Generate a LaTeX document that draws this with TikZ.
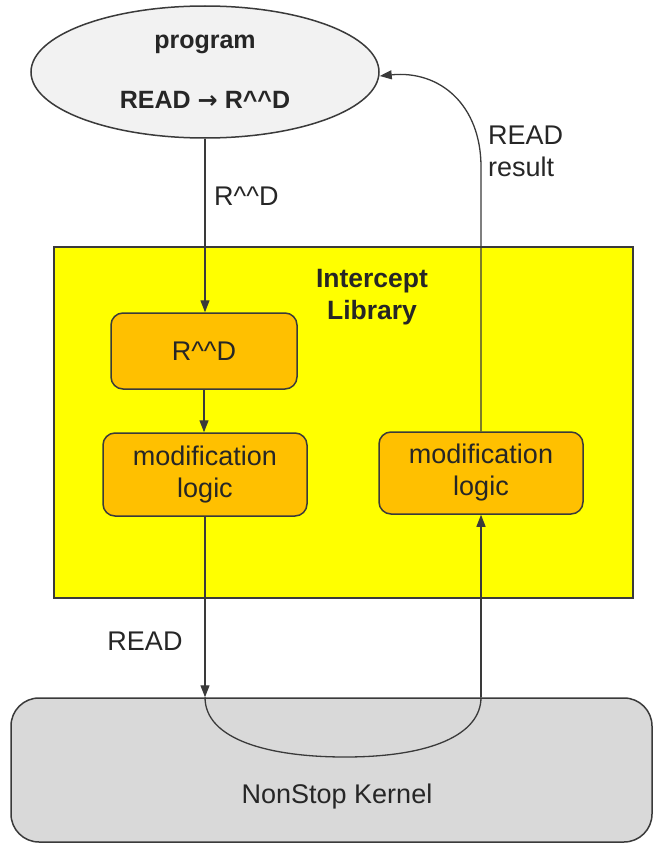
\documentclass[tikz,border=0pt]{standalone}
\usepackage{fontspec}
\setmainfont{Liberation Sans}
\newfontfamily\arrowfont{DejaVu Sans}
\usetikzlibrary{arrows.meta,shapes.geometric}
\definecolor{linec}{HTML}{3A3A3A}
\definecolor{orangefill}{HTML}{FFC000}
\definecolor{ellfill}{HTML}{F2F2F2}
\definecolor{kernfill}{HTML}{D9D9D9}
\definecolor{yel}{HTML}{FFFF00}
\begin{document}
\begin{tikzpicture}[x=1pt,y=-1pt,
  txt/.style={font=\fontsize{27}{32}\selectfont, text=black!85},
  btxt/.style={font=\fontsize{25}{32}\selectfont\bfseries, text=black!85},
  line/.style={draw=linec, line width=1.3pt},
  box/.style={draw=linec, line width=1.5pt, fill=orangefill, rounded corners=12pt, align=center, txt, inner sep=0pt},
  arr/.style={line, -{Triangle[length=12pt,width=9pt]}},
  lbl/.style={txt, align=left, inner sep=0pt}]
\useasboundingbox (0,0) rectangle (654,843);
% program ellipse
\node[ellipse, draw=linec, fill=ellfill, line width=1.5pt, minimum width=348pt, minimum height=132pt, inner sep=0pt] (prog) at (205,72) {};
\node[btxt] (progt) at (205,44) {program};
\node[btxt] (progr) at (205,100) {READ {\arrowfont\bfseries\fontsize{24}{32}\selectfont →} R\textasciicircum\textasciicircum D};
% intercept library
\node[draw=linec, line width=1.5pt, fill=yel, minimum width=579pt, minimum height=351pt, inner sep=0pt, anchor=north west] (lib) at (53,246) {};
\node[btxt, font=\fontsize{26.5}{32}\selectfont\bfseries, align=center] (libt) at (372,297) {Intercept\\Library};
\node[box, minimum width=186pt, minimum height=76pt] (rd) at (204,351) {R\textasciicircum\textasciicircum D};
\node[box, minimum width=204pt, minimum height=83pt] (ml1) at (205,474.5) {modification\\logic};
\node[box, minimum width=204pt, minimum height=82pt] (ml2) at (481,473) {modification\\logic};
% kernel
\node[draw=linec, line width=1.5pt, fill=kernfill, rounded corners=28pt, minimum width=641pt, minimum height=144pt, inner sep=0pt] (kern) at (331.5,770) {};
\node[txt] (kernt) at (337,797) {NonStop Kernel};
% connectors
\coordinate (kin) at (ml1.south |- kern.north);
\coordinate (kout) at (ml2.south |- kern.north);
\coordinate (bend) at (481,167);
\coordinate (ret) at ([yshift=-4pt]prog.east);
\draw[arr] (prog.south) -- (prog.south |- rd.north);
\draw[arr] (rd.south) -- (rd.south |- ml1.north);
\draw[arr] (ml1.south) -- (kin);
\draw[line] (kin) .. controls (205,740) and (270,757) .. (345,757) .. controls (430,757) and (481,735) .. (kout);
\draw[arr] (kout) -- (ml2.south);
\draw[arr] (ml2.north) -- (bend) .. controls (481,105) and (440,70) .. (ret);
% labels
\node[lbl, anchor=west] (l1) at (214,196) {R\textasciicircum\textasciicircum D};
\node[lbl, anchor=west] (l2) at (488,151) {READ\\result};
\node[lbl] (l3) at (145,641) {READ};
\end{tikzpicture}
\end{document}
